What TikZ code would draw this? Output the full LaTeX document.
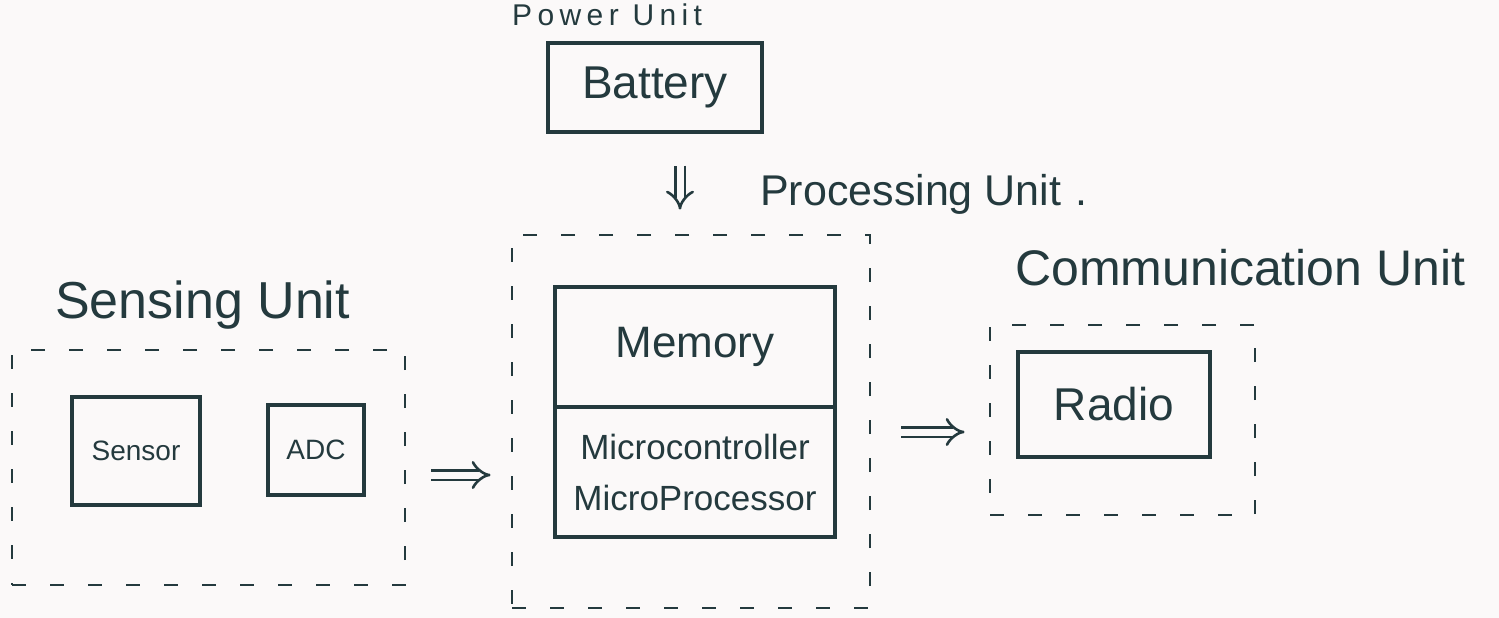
\documentclass[tikz,border=0pt]{standalone}
\usepackage{fontspec}
\setmainfont{Liberation Sans}
\usetikzlibrary{arrows.meta}
\definecolor{ink}{RGB}{36,58,62}
\definecolor{paper}{RGB}{251,249,249}
\newcommand{\fsz}[1]{\fontsize{#1}{#1}\selectfont}
\begin{document}
\begin{tikzpicture}[x=1pt,y=-1pt,
  box/.style={draw=ink,line width=3.2pt,rectangle,inner sep=0pt,text=ink,align=center},
  unitbox/.style={draw=ink,line width=2.8pt,dash pattern=on 14pt off 24pt,rectangle,inner sep=0pt},
  lbl/.style={text=ink,inner sep=0pt,anchor=base west},
  flow/.style={draw=ink,line width=2.6pt,double=paper,double distance=7pt,-{Implies}}
]
\useasboundingbox (0,0) rectangle (1499,618);
\clip (0,0) rectangle (1499,618);
\fill[paper] (0,0) rectangle (1499,618);

% power unit
\node[lbl,font=\fsz{30}\addfontfeature{LetterSpace=18}] (powerlbl) at (512,26) {Power Unit};
\node[box,minimum width=214pt,minimum height=89pt,font=\fsz{46}] (battery) at (655,87.5) {Battery};

% processing unit
\node[lbl,font=\fsz{43}] (proclbl) at (760,205) {Processing Unit\hspace{14pt}.};
\node[unitbox,minimum width=358pt,minimum height=373pt] (proc) at (691,421.5) {};
\node[box,minimum width=280pt,minimum height=120pt,font=\fsz{44}] (mem) at (695,347) {Memory};
\node[box,minimum width=280pt,minimum height=130pt,font=\fsz{35}] (mcu) at (695,472)
  {Microcontroller\\[16pt]MicroProcessor};

% sensing unit
\node[lbl,font=\fsz{52}] (senslbl) at (55,318) {Sensing Unit};
\node[unitbox,minimum width=393pt,minimum height=235pt] (sens) at (208.5,467.5) {};
\node[box,minimum width=128pt,minimum height=108pt,font=\fsz{28}] (sensor) at (136,451) {Sensor};
\node[box,minimum width=96pt,minimum height=90pt,font=\fsz{28}] (adc) at (316,450) {ADC};

% communication unit
\node[lbl,font=\fsz{50}] (commlbl) at (1015,285) {Communication Unit};
\node[unitbox,minimum width=265pt,minimum height=190pt] (comm) at (1122.5,420) {};
\node[box,minimum width=192pt,minimum height=105pt,font=\fsz{46}] (radio) at (1114,404.5) {Radio};

% data flow
\draw[flow] ([xshift=25pt,yshift=-32pt]battery.south) -- ([xshift=-11pt,yshift=24pt]proc.north);
\draw[flow] ([xshift=25pt,yshift=-7.5pt]sens.east) -- ([xshift=-20pt,yshift=-53.5pt]proc.west);
\draw[flow] ([xshift=30pt,yshift=-10.5pt]proc.east) -- ([xshift=-24pt,yshift=-12pt]comm.west);
\end{tikzpicture}
\end{document}
